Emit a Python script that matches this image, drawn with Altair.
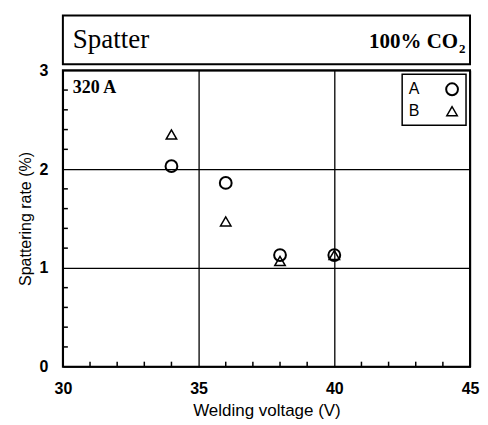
import altair as alt
import pandas as pd

# ---- data ----
voltage = [34, 36, 38, 40]
rate_a = [2.03, 1.86, 1.13, 1.13]
rate_b = [2.35, 1.47, 1.07, 1.13]
series_names = ["A", "B"]
x_ticks = [30, 35, 40, 45]
y_ticks = [0, 1, 2, 3]
x_minor = [31, 32, 33, 34, 36, 37, 38, 39, 41, 42, 43, 44]
y_minor = [0.2, 0.4, 0.6, 0.8, 1.2, 1.4, 1.6, 1.8, 2.2, 2.4, 2.6, 2.8]
title_left = "Spatter"
title_right = "100% CO"
title_sub = "2"
current_label = "320 A"
x_title = "Welding voltage (V)"
y_title = "Spattering rate (%)"

W, H = 408, 297
TH = 49
SANS = "Liberation Sans"
SERIF = "Liberation Serif"

df_a = pd.DataFrame({"voltage": voltage, "rate": rate_a})
df_b = pd.DataFrame({"voltage": voltage, "rate": rate_b})
df_xm = pd.DataFrame({"v": x_minor})
df_ym = pd.DataFrame({"v": y_minor})
one = pd.DataFrame({"a": [0]})

xs = alt.Scale(domain=[30, 45], nice=False, zero=False)
ys = alt.Scale(domain=[0, 3], nice=False)

x_axis = alt.Axis(values=x_ticks, format="d", grid=True, gridColor="black", gridWidth=1.3,
                  domain=False, ticks=False, tickSize=0, labelFlush=False,
                  labelFontSize=16, labelFontWeight="bold", labelFont=SANS,
                  labelColor="black", labelPadding=14, title=x_title,
                  titleFont=SANS, titleFontSize=17, titleFontWeight="normal",
                  titleColor="black", titlePadding=6)
y_axis = alt.Axis(values=y_ticks, format="d", grid=True, gridColor="black", gridWidth=1.3,
                  domain=False, ticks=False, tickSize=0, labelFlush=False,
                  labelFontSize=16, labelFontWeight="bold", labelFont=SANS,
                  labelColor="black", labelPadding=15, title=y_title,
                  titleFont=SANS, titleFontSize=16, titleFontWeight="normal",
                  titleColor="black", titlePadding=6)

pts_a = alt.Chart(df_a).mark_point(shape="circle", filled=False, color="black", opacity=1,
                                   size=140, strokeWidth=2).encode(
    x=alt.X("voltage:Q", scale=xs, axis=x_axis),
    y=alt.Y("rate:Q", scale=ys, axis=y_axis),
)
pts_b = alt.Chart(df_b).mark_point(shape="triangle-up", filled=False, color="black", opacity=1,
                                   size=110, strokeWidth=1.5).encode(
    x=alt.X("voltage:Q", scale=xs),
    y=alt.Y("rate:Q", scale=ys),
)

xm = alt.Chart(df_xm).mark_rule(color="black", strokeWidth=1.5).encode(
    x=alt.X("v:Q", scale=xs), y=alt.value(H), y2=alt.value(H - 5))
ym = alt.Chart(df_ym).mark_rule(color="black", strokeWidth=1.5).encode(
    y=alt.Y("v:Q", scale=ys), x=alt.value(0), x2=alt.value(5))

lbl = alt.Chart(pd.DataFrame({"t": [current_label]})).mark_text(
    align="left", baseline="alphabetic", font=SERIF, fontWeight="bold",
    fontSize=18, color="black").encode(x=alt.value(10), y=alt.value(23), text="t:N")

leg_box = alt.Chart(one).mark_rect(fill="white", stroke="black", strokeWidth=1.5).encode(
    x=alt.value(340), x2=alt.value(404), y=alt.value(4), y2=alt.value(55))
leg_a = alt.Chart(pd.DataFrame({"t": [series_names[0]]})).mark_text(
    font=SANS, fontSize=16, color="black", baseline="middle", align="center").encode(
    x=alt.value(352), y=alt.value(19), text="t:N")
leg_b = alt.Chart(pd.DataFrame({"t": [series_names[1]]})).mark_text(
    font=SANS, fontSize=16, color="black", baseline="middle", align="center").encode(
    x=alt.value(352), y=alt.value(41), text="t:N")
leg_sa = alt.Chart(one).mark_point(shape="circle", filled=False, color="black", opacity=1,
                                   size=140, strokeWidth=2).encode(
    x=alt.value(390), y=alt.value(19))
leg_sb = alt.Chart(one).mark_point(shape="triangle-up", filled=False, color="black", opacity=1,
                                   size=110, strokeWidth=1.5).encode(
    x=alt.value(390), y=alt.value(41))

main = alt.layer(pts_a, pts_b, xm, ym, lbl, leg_box, leg_a, leg_b, leg_sa, leg_sb).properties(
    width=W, height=H)

t1 = alt.Chart(pd.DataFrame({"t": [title_left]})).mark_text(
    align="left", baseline="alphabetic", font=SERIF, fontSize=27, color="black").encode(
    x=alt.value(10), y=alt.value(33), text="t:N")
t2 = alt.Chart(pd.DataFrame({"t": [title_right]})).mark_text(
    align="right", baseline="alphabetic", font=SERIF, fontWeight="bold", fontSize=21,
    color="black").encode(x=alt.value(396), y=alt.value(33), text="t:N")
t3 = alt.Chart(pd.DataFrame({"t": [title_sub]})).mark_text(
    align="left", baseline="alphabetic", font=SERIF, fontWeight="bold", fontSize=13,
    color="black").encode(x=alt.value(397), y=alt.value(38), text="t:N")
title_panel = alt.layer(t1, t2, t3).properties(width=W, height=TH)

chart = alt.vconcat(title_panel, main, spacing=6, bounds="flush").properties(
    padding={"left": 8, "top": 6, "right": 0, "bottom": 0},
    background="white",
).configure_view(stroke="black", strokeWidth=2)

chart.save("out.html", embed_options={"renderer": "svg", "actions": False})
